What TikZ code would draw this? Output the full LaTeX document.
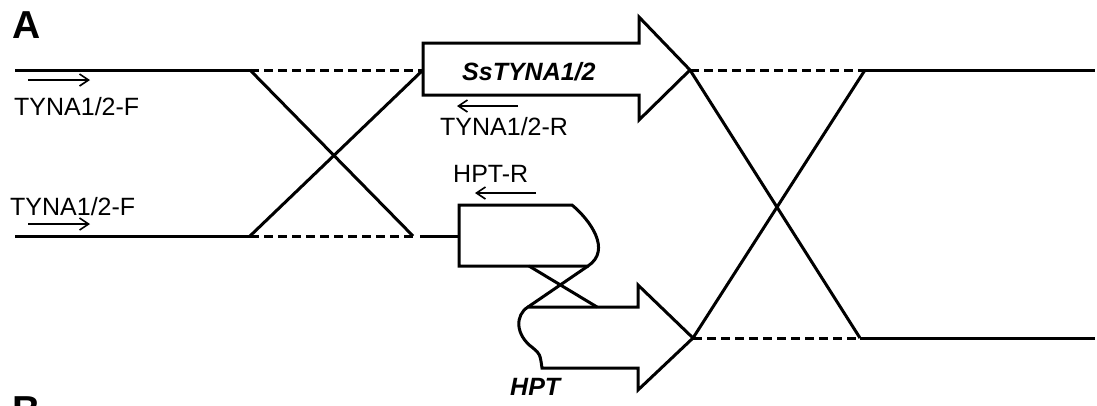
\documentclass[tikz,border=0pt]{standalone}
\usepackage{fontspec}
\setmainfont{Liberation Sans}
\usetikzlibrary{arrows.meta,positioning}
\tikzset{
  dna/.style={line width=3pt},
  gap/.style={line width=3pt,dash pattern=on 9pt off 5pt},
  gene/.style={line width=3pt,line join=miter},
  primer/.style={line width=1.6pt,-{Straight Barb[length=9pt,width=12pt]}},
  lbl/.style={anchor=base west,inner sep=0pt,font=\fontsize{25}{30}\selectfont},
  glbl/.style={anchor=base west,inner sep=0pt,font=\fontsize{25}{30}\selectfont\bfseries\itshape},
  panel/.style={anchor=base west,inner sep=0pt,font=\fontsize{39}{44}\selectfont\bfseries}
}
\begin{document}
\begin{tikzpicture}[x=1pt,y=-1pt]
  \useasboundingbox (0,0) rectangle (1097,405);
  \coordinate (upL) at (250,70);
  \coordinate (upR) at (423,70);
  \coordinate (loL) at (250,236);
  \coordinate (loR) at (413,236);
  \coordinate (tipA) at (690,70);
  \coordinate (tipB) at (693,338);
  \coordinate (upX) at (865,70);
  \coordinate (loX) at (860,338);

  \draw[dna] (15,70) -- (upL);
  \draw[gap] (upL) -- (upR);
  \draw[dna] (15,236) -- (loL);
  \draw[gap] (loL) -- (loR);
  \draw[dna] (420,236) -- (459,236);
  \draw[dna] (upL) -- (loR);
  \draw[dna] (loL) -- (upR);

  \draw[gene] (upR) |- (639,43) -- (639,17) -- (tipA) -- (639,120) -- (639,95) -- (423,95) -- cycle;
  \draw[gene] (459,205) -- (572,205) .. controls (590,220) and (612,250) .. (588,266) -- (459,266) -- cycle;
  \draw[gene] (528,307) -- (638,307) -- (638,285) -- (tipB) -- (638,390) -- (638,368) -- (542,368)
     .. controls (540,354) .. (533,348) .. controls (515,335) and (515,315) .. (528,307) -- cycle;
  \draw[dna] (529,266) -- (597,307);
  \draw[dna] (588,266) -- (528,307);

  \draw[gap] (tipA) -- (upX);
  \draw[dna] (upX) -- (1095,70);
  \draw[gap] (tipB) -- (loX);
  \draw[dna] (loX) -- (1095,338);
  \draw[dna] (tipA) -- (loX);
  \draw[dna] (tipB) -- (upX);

  \node[panel] (panA) at (12,38) {A};
  \node[lbl] (fTop) at (14,115) {TYNA1/2-F};
  \node[lbl] (fBot) at (10,215) {TYNA1/2-F};
  \node[lbl] (rTop) at (440,135) {TYNA1/2-R};
  \node[lbl] (rHpt) at (453,182) {HPT-R};
  \node[glbl] (gTyna) at (462,80) {SsTYNA1/2};
  \node[glbl] (gHpt) at (510,395) {HPT};

  \draw[primer] (28,80) -- (90,80);
  \draw[primer] (28,224) -- (90,224);
  \draw[primer] (518,106) -- (457,106);
  \draw[primer] (536,193) -- (475,193);

  \begin{scope}
    \clip (0,0) rectangle (1097,405);
    \node[panel] (panB) at (12,423) {B};
  \end{scope}
\end{tikzpicture}
\end{document}
